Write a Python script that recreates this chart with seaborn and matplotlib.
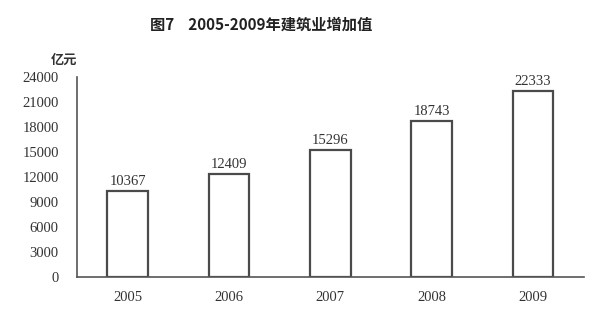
import matplotlib
matplotlib.use("Agg")
import matplotlib.pyplot as plt
import seaborn as sns
import pandas as pd

years = ["2005", "2006", "2007", "2008", "2009"]
values = [10367, 12409, 15296, 18743, 22333]
yticks = [0, 3000, 6000, 9000, 12000, 15000, 18000, 21000, 24000]
title = "图7    2005-2009年建筑业增加值"
unit = "亿元"

sns.set_theme(style="white")
plt.rcParams['font.family'] = ['Noto Sans CJK SC', 'DejaVu Sans']

df = pd.DataFrame({"year": years, "value": values})

fig = plt.figure(figsize=(6, 3.24), dpi=100)
ax = fig.add_axes([0.128, 0.145, 0.845, 0.617])
sns.barplot(data=df, x="year", y="value", ax=ax, color="white",
            edgecolor="#4a4a4a", linewidth=1.6, width=0.4)

ax.set_xlim(-0.5, 4.5)
ax.set_ylim(0, 24000)
ax.set_yticks(yticks)
ax.set_yticklabels([str(v) for v in yticks], family=['Liberation Serif'], fontsize=10.5, color="#333333")
ax.set_xticks([i + 0.5 for i in range(-1, 5)], minor=False)
ax.set_xticklabels([])
ax.set_xticks(range(5), minor=True)
ax.set_xticklabels(years, minor=True, family=['Liberation Serif'], fontsize=10.5, color="#333333")
ax.tick_params(axis='x', which='minor', length=0, pad=10)
ax.tick_params(axis='x', which='major', direction='in', length=3, color="#555555")
ax.tick_params(axis='y', direction='in', length=3, color="#555555", pad=13)
ax.set_xlabel("")
ax.set_ylabel("")
for s in ["top", "right"]:
    ax.spines[s].set_visible(False)
for s in ["left", "bottom"]:
    ax.spines[s].set_color("#555555")
    ax.spines[s].set_linewidth(1.2)

for i, v in enumerate(values):
    ax.text(i, v + 350, str(v), ha="center", va="bottom", family=['Liberation Serif'],
            fontsize=10.5, color="#333333")

fig.text(0.435, 0.925, title, ha="center", va="center", fontsize=11, fontweight="bold", color="#222222")
fig.text(0.128, 0.815, unit, ha="right", va="center", fontsize=9.5, fontweight="bold", color="#333333")

fig.savefig("out.png", dpi=100, facecolor="white")
